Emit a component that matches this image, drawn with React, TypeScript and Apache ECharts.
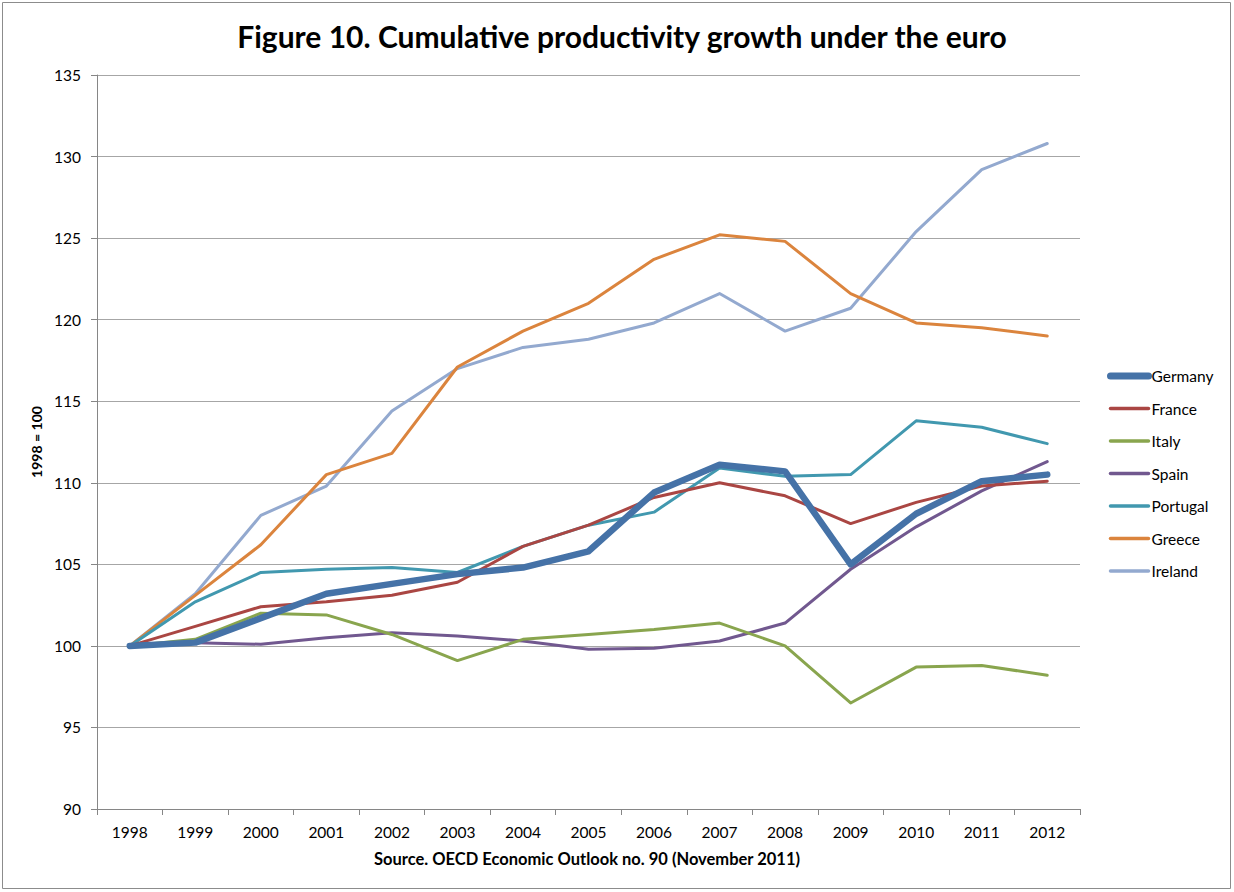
import React, { useEffect, useRef } from "react";
import * as echarts from "echarts";

const years = ["1998","1999","2000","2001","2002","2003","2004","2005","2006","2007","2008","2009","2010","2011","2012"];
const germany = [100, 100.2, 101.7, 103.2, 103.8, 104.4, 104.8, 105.8, 109.4, 111.1, 110.7, 105.0, 108.1, 110.1, 110.5];
const france = [100, 101.2, 102.4, 102.7, 103.1, 103.9, 106.1, 107.4, 109.1, 110.0, 109.2, 107.5, 108.8, 109.8, 110.1];
const italy = [100, 100.4, 102.0, 101.9, 100.7, 99.1, 100.4, 100.7, 101.0, 101.4, 100.0, 96.5, 98.7, 98.8, 98.2];
const spain = [100, 100.2, 100.1, 100.5, 100.8, 100.6, 100.3, 99.8, 99.85, 100.3, 101.4, 104.7, 107.3, 109.5, 111.3];
const portugal = [100, 102.7, 104.5, 104.7, 104.8, 104.5, 106.1, 107.4, 108.2, 110.9, 110.4, 110.5, 113.8, 113.4, 112.4];
const greece = [100, 103.1, 106.2, 110.5, 111.8, 117.1, 119.3, 121.0, 123.7, 125.2, 124.8, 121.6, 119.8, 119.5, 119.0];
const ireland = [100, 103.2, 108.0, 109.8, 114.4, 117.0, 118.3, 118.8, 119.8, 121.6, 119.3, 120.7, 125.4, 129.2, 130.8];
const yTicks = { min: 90, max: 135, interval: 5 };

const seriesDefs = [
  { name: "Germany", data: germany, color: "#4572A7", width: 6.5 },
  { name: "France", data: france, color: "#AA4643", width: 3 },
  { name: "Italy", data: italy, color: "#89A54E", width: 3 },
  { name: "Spain", data: spain, color: "#71588F", width: 3 },
  { name: "Portugal", data: portugal, color: "#4198AF", width: 3 },
  { name: "Greece", data: greece, color: "#DB843D", width: 3 },
  { name: "Ireland", data: ireland, color: "#93A9CF", width: 3 },
];

const FONT = "Lato, 'Open Sans', sans-serif";

export default function App() {
  const ref = useRef<HTMLDivElement>(null);
  useEffect(() => {
    if (!ref.current) return;
    const chart = echarts.init(ref.current, undefined, { renderer: "svg" });
    chart.setOption({
      animation: false,
      backgroundColor: "#ffffff",
      textStyle: { fontFamily: FONT },
      title: {
        text: "Figure 10. Cumulative productivity growth under the euro",
        left: 617,
        textAlign: "center",
        top: 16,
        textStyle: { fontFamily: FONT, fontWeight: "bold", fontSize: 30, color: "#000" },
      },
      graphic: [
        {
          type: "rect",
          shape: { x: 2.5, y: 2.5, width: 1228, height: 886 },
          style: { fill: "none", stroke: "#8c8c8c", lineWidth: 1 },
          silent: true,
        },
        {
          type: "text",
          left: 589 - 215,
          top: 850,
          style: {
            text: "Source. OECD Economic Outlook no. 90 (November 2011)",
            fontFamily: FONT,
            fontWeight: "bold",
            fontSize: 16.5,
            fill: "#000",
            width: 430,
            align: "center",
          },
        },
      ],
      legend: {
        orient: "vertical",
        left: 1102,
        top: 363,
        itemWidth: 38,
        itemHeight: 14,
        itemGap: 16.5,
        itemStyle: { opacity: 0 },
        textStyle: { fontFamily: FONT, fontSize: 15.5, color: "#000", padding: [0, 0, 0, -2] },
        data: seriesDefs.map((s) => ({
          name: s.name,
          itemStyle: { opacity: 0 },
          lineStyle: { color: s.color, width: s.width + 0.5, cap: "round" },
        })),
      },
      grid: { left: 97, right: 154, top: 75, bottom: 83, containLabel: false },
      xAxis: {
        type: "category",
        data: years,
        boundaryGap: true,
        axisLine: { lineStyle: { color: "#868686", width: 1 } },
        axisTick: { show: true, length: 6, inside: false, alignWithLabel: false, lineStyle: { color: "#868686" } },
        axisLabel: { fontFamily: FONT, fontSize: 15.5, color: "#000", margin: 15 },
        splitLine: { show: false },
      },
      yAxis: {
        type: "value",
        min: yTicks.min,
        max: yTicks.max,
        interval: yTicks.interval,
        name: "1998 = 100",
        nameLocation: "middle",
        nameGap: 54,
        nameRotate: 90,
        nameTextStyle: { fontFamily: FONT, fontWeight: "bold", fontSize: 14, color: "#000" },
        axisLine: { show: true, lineStyle: { color: "#868686", width: 1 } },
        axisTick: { show: true, length: 6, lineStyle: { color: "#868686" } },
        axisLabel: { fontFamily: FONT, fontSize: 15.5, color: "#000", margin: 16 },
        splitLine: { show: true, lineStyle: { color: "#a6a6a6", width: 1 } },
      },
      series: seriesDefs.map((s, i) => ({
        name: s.name,
        type: "line",
        data: s.data,
        symbol: "none",
        color: s.color,
        z: 10 - i,
        lineStyle: { color: s.color, width: s.width, cap: "round", join: "round" },
        itemStyle: { color: s.color },
      })),
    });
    return () => chart.dispose();
  }, []);
  return <div ref={ref} style={{ position: "absolute", left: 0, top: 0, width: 1234, height: 892 }} />;
}
